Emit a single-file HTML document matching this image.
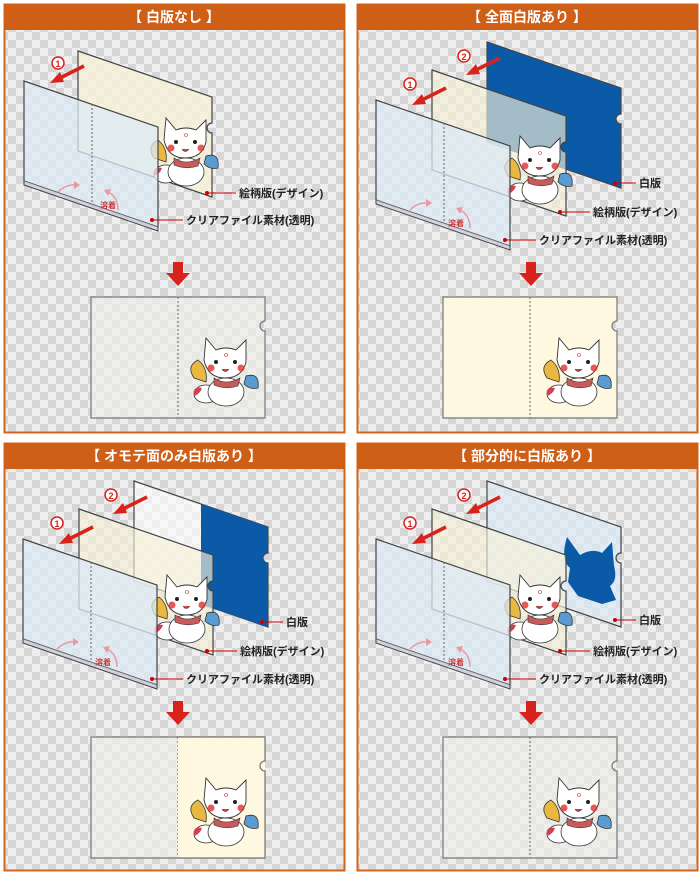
<!DOCTYPE html>
<html><head><meta charset="utf-8"><style>
html,body{margin:0;padding:0;background:#fff;width:700px;height:874px;overflow:hidden}
svg{display:block}
text{font-family:"Liberation Sans","Noto Sans CJK JP",sans-serif}
.h{fill:#fff;font-size:14px;font-weight:bold}
.l{fill:#222;font-size:11px;font-weight:bold}
</style></head><body>
<svg width="700" height="874" viewBox="0 0 700 874" xmlns="http://www.w3.org/2000/svg">
<defs>
<pattern id="ck" width="16" height="16" patternUnits="userSpaceOnUse">
<rect width="16" height="16" fill="#eeeeee"/><rect width="8" height="8" fill="#d6d6d6"/><rect x="8" y="8" width="8" height="8" fill="#d6d6d6"/>
</pattern>
<symbol id="sh" overflow="visible"><path d="M0,0 L134,46 L134,72 A5,5 0 0 0 134,82 L134,146 L0,100 Z" stroke="#444" stroke-width="1.2"/></symbol>
<symbol id="fr" overflow="visible"><path d="M0,0 L134,46 L134,146 L0,100 Z" stroke="#444" stroke-width="1.2"/><path d="M0,100 L0,104 L134,150 L134,146" fill="#ccd" stroke="#444" stroke-width="1"/><line x1="68" y1="23" x2="68" y2="123" stroke="#666" stroke-dasharray="2,2"/></symbol>
<symbol id="fox" overflow="visible">
<path d="M-6,40 Q-14,28 -2,22 Q8,30 6,44 Z" fill="#e9b840" stroke="#333" stroke-width=".8"/>
<path d="M46,38 Q60,34 58,50 Q50,52 44,46 Z" fill="#5a9bd1" stroke="#333" stroke-width=".8"/>
<ellipse cx="6" cy="56" rx="12" ry="9" fill="#fff" stroke="#333" stroke-width=".8"/>
<path d="M-6,58 Q-8,48 2,50 Q0,56 -6,58Z" fill="#d04050"/>
<ellipse cx="26" cy="54" rx="18" ry="14" fill="#fff" stroke="#333" stroke-width=".8"/>
<path d="M14,40 Q26,48 40,40 L38,48 Q26,52 14,47Z" fill="#c85a5a" stroke="#333" stroke-width=".6"/>
<path d="M4,22 L6,0 L16,12 Q26,8 36,12 L46,2 L46,24 Q42,40 25,40 Q8,40 4,22Z" fill="#fff" stroke="#333" stroke-width=".9"/>
<circle cx="16" cy="24" r="2" fill="#222"/><circle cx="35" cy="24" r="2" fill="#222"/>
<circle cx="11" cy="30" r="3.5" fill="#e03030" opacity=".8"/><circle cx="41" cy="30" r="3.5" fill="#e03030" opacity=".8"/>
<path d="M22,31 Q25,36 29,31" fill="#d04040" stroke="#333" stroke-width=".6"/>
<circle cx="26" cy="17" r="1.5" fill="none" stroke="#c33" stroke-width=".6"/>
</symbol>
<symbol id="ar" overflow="visible"><line x1="0" y1="0" x2="-26" y2="13" stroke="#d8231c" stroke-width="3.5"/><path d="M-34,17 L-24,6 L-20,16 Z" fill="#d8231c"/></symbol>
<symbol id="dn" overflow="visible"><rect x="-5" y="0" width="10" height="12" fill="#d8231c"/><path d="M-12,11 L12,11 L0,24 Z" fill="#d8231c"/></symbol>
<symbol id="res" overflow="visible"><path d="M0,0 L174,0 L174,24 A5,5 0 0 0 174,34 L174,121 L0,121 Z" stroke="#777" stroke-width="1.2"/><line x1="87" y1="0" x2="87" y2="121" stroke="#666" stroke-dasharray="2,2"/></symbol>
<symbol id="pk" overflow="visible"><path d="M0,0 Q8,-8 18,-7" stroke="#e89aa0" stroke-width="1.5" fill="none"/><path d="M16,-11 L22,-7 L16,-3Z" fill="#e89aa0"/><path d="M60,18 Q60,5 50,0" stroke="#e89aa0" stroke-width="1.5" fill="none"/><path d="M46,-2 L53,-3 L50,4Z" fill="#e89aa0"/></symbol>
</defs>

<rect x="4.5" y="4.5" width="340" height="428" fill="url(#ck)" stroke="#d2641b" stroke-width="2"/>
<rect x="4" y="4" width="341" height="26" fill="#cf5f17"/>
<text class="h" x="174" y="22" text-anchor="middle">【 白版なし 】</text>
<rect x="357.5" y="4.5" width="340" height="428" fill="url(#ck)" stroke="#d2641b" stroke-width="2"/>
<rect x="357" y="4" width="341" height="26" fill="#cf5f17"/>
<text class="h" x="527" y="22" text-anchor="middle">【 全面白版あり 】</text>
<rect x="4.5" y="443.5" width="340" height="427" fill="url(#ck)" stroke="#d2641b" stroke-width="2"/>
<rect x="4" y="443" width="341" height="26" fill="#cf5f17"/>
<text class="h" x="174" y="461" text-anchor="middle">【 オモテ面のみ白版あり 】</text>
<rect x="357.5" y="443.5" width="340" height="427" fill="url(#ck)" stroke="#d2641b" stroke-width="2"/>
<rect x="357" y="443" width="341" height="26" fill="#cf5f17"/>
<text class="h" x="527" y="461" text-anchor="middle">【 部分的に白版あり 】</text>

<!-- Panel 1 -->
<use href="#sh" x="78" y="51" fill="#f6f1d8" fill-opacity=".85"/>
<use href="#fox" x="160" y="118"/>
<use href="#fr" x="24" y="81" fill="#dce9f6" fill-opacity=".75"/>
<use href="#ar" x="84" y="66"/>
<circle cx="58" cy="63" r="6" fill="#fff" stroke="#d8231c" stroke-width="1.5"/><text x="58" y="67" font-size="9" font-weight="bold" fill="#d8231c" text-anchor="middle">1</text>
<text x="100" y="208" font-size="8" fill="#c33" font-weight="bold">溶着</text>
<use href="#pk" x="58" y="192"/>
<circle cx="207" cy="193" r="2" fill="#c00"/><line x1="207" y1="193" x2="236" y2="193" stroke="#c00"/><text class="l" x="239" y="197">絵柄版(デザイン)</text>
<circle cx="152" cy="220" r="2" fill="#c00"/><line x1="152" y1="220" x2="183" y2="220" stroke="#c00"/><text class="l" x="186" y="224">クリアファイル素材(透明)</text>
<use href="#dn" x="178" y="262"/>
<use href="#res" x="91" y="297" fill="#eeeeea" fill-opacity=".7"/>
<use href="#fox" x="200" y="338"/>

<!-- Panel 2 -->
<use href="#sh" x="487" y="42" fill="#0a5aa8"/>
<use href="#sh" x="432" y="70" fill="#f6f1d8" fill-opacity=".65"/>
<use href="#fox" x="514" y="136"/>
<use href="#fr" x="376" y="100" fill="#dce9f6" fill-opacity=".75"/>
<use href="#ar" x="500" y="58"/><circle cx="464" cy="56" r="6" fill="#fff" stroke="#d8231c" stroke-width="1.5"/><text x="464" y="60" font-size="9" font-weight="bold" fill="#d8231c" text-anchor="middle">2</text>
<use href="#ar" x="446" y="88"/><circle cx="410" cy="84" r="6" fill="#fff" stroke="#d8231c" stroke-width="1.5"/><text x="410" y="88" font-size="9" font-weight="bold" fill="#d8231c" text-anchor="middle">1</text>
<text x="448" y="226" font-size="8" fill="#c33" font-weight="bold">溶着</text>
<use href="#pk" x="410" y="210"/>
<circle cx="615" cy="183" r="2" fill="#c00"/><line x1="615" y1="183" x2="636" y2="183" stroke="#c00"/><text class="l" x="639" y="187">白版</text>
<circle cx="560" cy="212" r="2" fill="#c00"/><line x1="560" y1="212" x2="590" y2="212" stroke="#c00"/><text class="l" x="593" y="216">絵柄版(デザイン)</text>
<circle cx="505" cy="240" r="2" fill="#c00"/><line x1="505" y1="240" x2="536" y2="240" stroke="#c00"/><text class="l" x="539" y="244">クリアファイル素材(透明)</text>
<use href="#dn" x="531" y="262"/>
<use href="#res" x="443" y="297" fill="#fdf8df"/>
<use href="#fox" x="553" y="338"/>

<!-- Panel 3 -->
<use href="#sh" x="134" y="481" fill="#ffffff" fill-opacity=".6"/>
<path d="M201,504 L268,527 L268,553 A5,5 0 0 0 268,563 L268,627 L201,604 Z" fill="#0a5aa8"/>
<use href="#sh" x="79" y="509" fill="#f6f1d8" fill-opacity=".65"/>
<use href="#fox" x="161" y="575"/>
<use href="#fr" x="23" y="539" fill="#dce9f6" fill-opacity=".75"/>
<use href="#ar" x="147" y="497"/><circle cx="111" cy="495" r="6" fill="#fff" stroke="#d8231c" stroke-width="1.5"/><text x="111" y="499" font-size="9" font-weight="bold" fill="#d8231c" text-anchor="middle">2</text>
<use href="#ar" x="93" y="527"/><circle cx="57" cy="523" r="6" fill="#fff" stroke="#d8231c" stroke-width="1.5"/><text x="57" y="527" font-size="9" font-weight="bold" fill="#d8231c" text-anchor="middle">1</text>
<text x="95" y="665" font-size="8" fill="#c33" font-weight="bold">溶着</text>
<use href="#pk" x="57" y="649"/>
<circle cx="262" cy="622" r="2" fill="#c00"/><line x1="262" y1="622" x2="283" y2="622" stroke="#c00"/><text class="l" x="286" y="626">白版</text>
<circle cx="207" cy="651" r="2" fill="#c00"/><line x1="207" y1="651" x2="237" y2="651" stroke="#c00"/><text class="l" x="240" y="655">絵柄版(デザイン)</text>
<circle cx="152" cy="679" r="2" fill="#c00"/><line x1="152" y1="679" x2="183" y2="679" stroke="#c00"/><text class="l" x="186" y="683">クリアファイル素材(透明)</text>
<use href="#dn" x="178" y="701"/>
<use href="#res" x="91" y="737" fill="#eeeeea" fill-opacity=".7"/>
<rect x="178" y="737" width="87" height="121" fill="#fdf8df"/>
<path d="M178,737 L265,737 L265,761 A5,5 0 0 0 265,771 L265,858 L178,858" fill="none" stroke="#777" stroke-width="1.2"/>
<use href="#fox" x="200" y="778"/>

<!-- Panel 4 -->
<use href="#sh" x="487" y="481" fill="#dce9f6" fill-opacity=".7"/>
<path d="M567,537 L580,555 Q592,548 602,553 L612,542 L614,566 Q618,580 610,586 L616,600 L602,604 L578,596 L568,582 L570,568 Q560,560 567,537Z" fill="#0a5aa8"/>
<use href="#sh" x="432" y="509" fill="#f6f1d8" fill-opacity=".65"/>
<use href="#fox" x="514" y="575"/>
<use href="#fr" x="376" y="539" fill="#dce9f6" fill-opacity=".75"/>
<use href="#ar" x="500" y="497"/><circle cx="464" cy="495" r="6" fill="#fff" stroke="#d8231c" stroke-width="1.5"/><text x="464" y="499" font-size="9" font-weight="bold" fill="#d8231c" text-anchor="middle">2</text>
<use href="#ar" x="446" y="527"/><circle cx="410" cy="523" r="6" fill="#fff" stroke="#d8231c" stroke-width="1.5"/><text x="410" y="527" font-size="9" font-weight="bold" fill="#d8231c" text-anchor="middle">1</text>
<text x="448" y="665" font-size="8" fill="#c33" font-weight="bold">溶着</text>
<use href="#pk" x="410" y="649"/>
<circle cx="615" cy="620" r="2" fill="#c00"/><line x1="615" y1="620" x2="636" y2="620" stroke="#c00"/><text class="l" x="639" y="624">白版</text>
<circle cx="560" cy="651" r="2" fill="#c00"/><line x1="560" y1="651" x2="590" y2="651" stroke="#c00"/><text class="l" x="593" y="655">絵柄版(デザイン)</text>
<circle cx="505" cy="679" r="2" fill="#c00"/><line x1="505" y1="679" x2="536" y2="679" stroke="#c00"/><text class="l" x="539" y="683">クリアファイル素材(透明)</text>
<use href="#dn" x="531" y="701"/>
<use href="#res" x="443" y="737" fill="#eeeeea" fill-opacity=".7"/>
<use href="#fox" x="553" y="778"/>
</svg>
</body></html>
